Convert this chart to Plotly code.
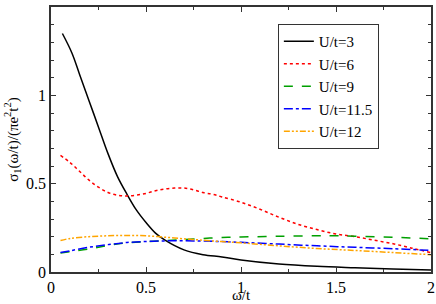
import plotly.graph_objects as go

omega_3 = [0.06, 0.11, 0.15, 0.2, 0.25, 0.3, 0.35, 0.4, 0.45, 0.5, 0.55, 0.6, 0.7, 0.8, 0.9, 1.0, 1.2, 1.4, 1.6, 1.8, 2.0]
sigma_3 = [1.35, 1.24, 1.12, 0.97, 0.82, 0.67, 0.54, 0.44, 0.35, 0.28, 0.22, 0.18, 0.125, 0.098, 0.085, 0.068, 0.045, 0.032, 0.024, 0.017, 0.012]

omega_6 = [0.05, 0.1, 0.15, 0.2, 0.25, 0.3, 0.35, 0.4, 0.45, 0.5, 0.55, 0.6, 0.65, 0.7, 0.75, 0.8, 0.85, 0.9, 1.0, 1.1, 1.2, 1.3, 1.4, 1.5, 1.6, 1.7, 1.8, 1.9, 2.0]
sigma_6 = [0.66, 0.62, 0.57, 0.52, 0.48, 0.45, 0.435, 0.43, 0.435, 0.445, 0.46, 0.47, 0.475, 0.475, 0.465, 0.45, 0.44, 0.425, 0.395, 0.355, 0.31, 0.27, 0.24, 0.215, 0.2, 0.18, 0.16, 0.135, 0.11]

omega_9 = [0.05, 0.1, 0.2, 0.3, 0.4, 0.5, 0.6, 0.7, 0.8, 0.9, 1.0, 1.2, 1.4, 1.5, 1.6, 1.8, 2.0]
sigma_9 = [0.108, 0.115, 0.13, 0.15, 0.165, 0.172, 0.178, 0.183, 0.19, 0.195, 0.198, 0.202, 0.205, 0.205, 0.203, 0.197, 0.188]

omega_115 = [0.05, 0.1, 0.2, 0.3, 0.4, 0.5, 0.6, 0.7, 0.8, 0.9, 1.0, 1.2, 1.4, 1.6, 1.8, 2.0]
sigma_115 = [0.11, 0.12, 0.14, 0.155, 0.167, 0.173, 0.176, 0.177, 0.175, 0.172, 0.168, 0.158, 0.148, 0.14, 0.132, 0.122]

omega_12 = [0.05, 0.1, 0.2, 0.3, 0.4, 0.5, 0.6, 0.7, 0.8, 0.9, 1.0, 1.2, 1.4, 1.6, 1.8, 2.0]
sigma_12 = [0.178, 0.19, 0.2, 0.205, 0.207, 0.205, 0.197, 0.188, 0.18, 0.172, 0.165, 0.148, 0.133, 0.122, 0.11, 0.098]

names = ["U/t=3", "U/t=6", "U/t=9", "U/t=11.5", "U/t=12"]
colors = ["#000000", "#ff0000", "#00a000", "#0000ff", "#ffa500"]
dashes = ["solid", "dot", "dash", "dashdot", "6px,2px,2px,2px,2px,2px"]
x_title = "ω/t"
y_title = "σ<sub>1</sub>(ω/t)/(πe<sup>2</sup>t<sup>2</sup>)"

series = [(omega_3, sigma_3), (omega_6, sigma_6), (omega_9, sigma_9), (omega_115, sigma_115), (omega_12, sigma_12)]

fig = go.Figure()
for (x, y), n, c, d in zip(series, names, colors, dashes):
    fig.add_trace(go.Scatter(x=x, y=y, mode="lines", name=n,
                             line=dict(color=c, dash=d, width=1.5, shape="spline")))

serif = "Liberation Serif"
axis_common = dict(showline=True, linecolor="#333", linewidth=1.5, mirror="ticks",
                   ticks="inside", ticklen=5, tickcolor="#333", tickwidth=1,
                   showgrid=False, zeroline=False, automargin=False,
                   tickfont=dict(family=serif, size=16, color="black"))

fig.update_layout(
    width=436, height=304,
    margin=dict(l=51, r=5, t=7, b=32),
    plot_bgcolor="white", paper_bgcolor="white",
    font=dict(family=serif),
    showlegend=True,
    legend=dict(x=0.597, y=0.936, xanchor="left", yanchor="top",
                bordercolor="#333", borderwidth=1, bgcolor="white",
                font=dict(family=serif, size=15, color="black"),
                tracegroupgap=0, itemwidth=30),
    xaxis=dict(range=[0, 2], dtick=0.5,
               minor=dict(ticks="inside", ticklen=3, dtick=0.25, tickcolor="#333"),
               **axis_common),
    yaxis=dict(range=[0, 1.5], dtick=0.5,
               minor=dict(ticks="inside", ticklen=3, dtick=0.1, tickcolor="#333"),
               title=dict(text=y_title,
                          font=dict(family=serif, size=15, color="black"), standoff=4),
               **axis_common),
    annotations=[dict(text=x_title, xref="paper", yref="paper", x=0.5, y=-0.088,
                      xanchor="center", yanchor="middle", showarrow=False,
                      font=dict(family=serif, size=15, color="black"))],
)

fig.write_html("out.html", post_script="document.body.style.margin='0';",
               config={"displayModeBar": False})
